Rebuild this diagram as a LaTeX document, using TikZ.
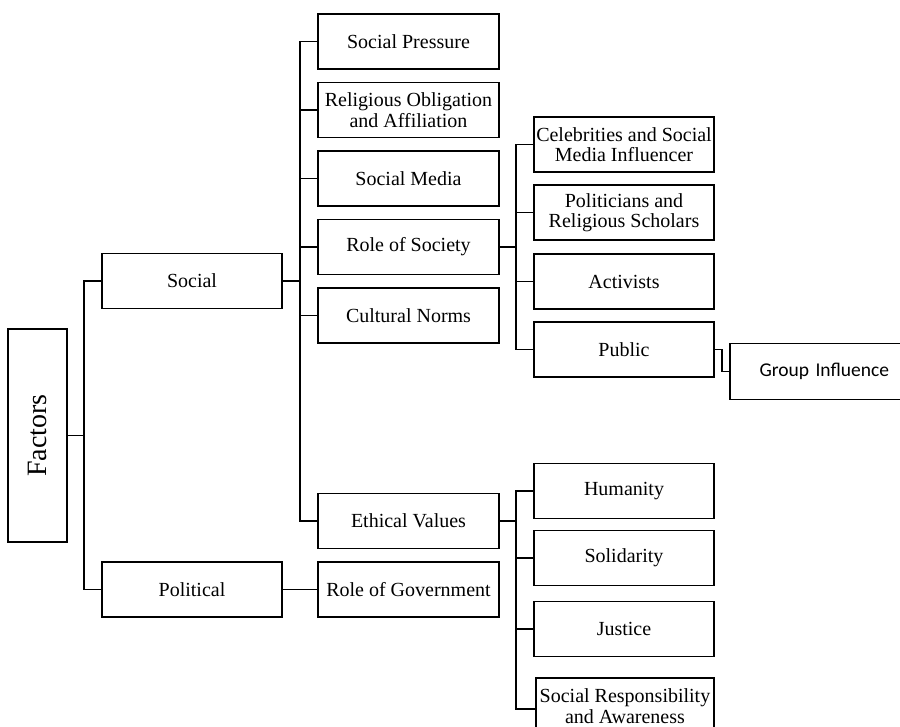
\documentclass[tikz,border=0pt]{standalone}
\usepackage{fontspec}
\setmainfont{Liberation Serif}
\newfontfamily\gifont{Carlito}
\begin{document}
\begin{tikzpicture}[x=1pt,y=-1pt,
  box/.style={draw,line width=1.6pt,inner sep=0pt,align=center,font=\fontsize{20}{20.5}\selectfont},
  lvlone/.style={box,minimum width=180pt,minimum height=55pt},
  lvltwo/.style={box,minimum width=181pt,minimum height=55pt},
  lvlthree/.style={box,minimum width=180pt,minimum height=55pt},
  conn/.style={line width=1.6pt}]
\useasboundingbox (0,0) rectangle (900,726);
% root
\node[box,minimum width=59pt,minimum height=213pt,font=\fontsize{28}{30}\selectfont] (factors) at (37.5,435.5) {\rotatebox{90}{Factors}};
% level 1
\node[lvlone] (social) at (192,281) {Social};
\node[lvlone] (political) at (192,589.5) {Political};
% level 2
\node[lvltwo] (sp) at (408.5,41.5) {Social Pressure};
\node[lvltwo] (rel) at (408.5,110) {Religious Obligation\\and Affiliation};
\node[lvltwo] (sm) at (408.5,178.5) {Social Media};
\node[lvltwo] (ros) at (408.5,247) {Role of Society};
\node[lvltwo] (cn) at (408.5,315.5) {Cultural Norms};
\node[lvltwo] (ev) at (408.5,521) {Ethical Values};
\node[lvltwo] (rog) at (408.5,589.5) {Role of Government};
% level 3 (society)
\node[lvlthree] (cel) at (624,144.5) {Celebrities and Social\\Media Influencer};
\node[lvlthree] (pol) at (624,212.5) {Politicians and\\Religious Scholars};
\node[lvlthree] (act) at (624,281.5) {Activists};
\node[lvlthree] (pub) at (624,349.5) {Public};
\node[box,minimum width=175pt,minimum height=56pt,font=\fontsize{19.5}{20}\gifont,text width=168pt,align=left] (gi) at (817.5,371.5) {\hspace*{26pt}Group Influence};
% level 3 (ethics)
\node[lvlthree] (hum) at (624,491) {Humanity};
\node[lvlthree] (sol) at (624,558) {Solidarity};
\node[lvlthree] (jus) at (624,629) {Justice};
\node[box,minimum width=178pt,minimum height=56pt] (srs) at (625,706) {Social Responsibility\\and Awareness};
% trunk coordinates
\coordinate (t1) at (84,0);
\coordinate (t2) at (300,0);
\coordinate (t3) at (516,0);
\coordinate (t4) at (516,0);
\coordinate (t5) at (722,0);
% connectors
\draw[conn] (factors.east) -- (factors.east -| t1);
\draw[conn] (social.west) -- (social.west -| t1) -- (political.west -| t1) -- (political.west);
\draw[conn] (social.east) -- (social.east -| t2);
\draw[conn] (sp.west) -- (sp.west -| t2) -- (ev.west -| t2) -- (ev.west);
\foreach \n in {rel,sm,ros,cn}{\draw[conn] (\n.west) -- (\n.west -| t2);}
\draw[conn] (political.east) -- (rog.west);
\draw[conn] (ros.east) -- (ros.east -| t3);
\draw[conn] (cel.west) -- (cel.west -| t3) -- (pub.west -| t3) -- (pub.west);
\foreach \n in {pol,act}{\draw[conn] (\n.west) -- (\n.west -| t3);}
\draw[conn] (pub.east) -- (pub.east -| t5) -- (gi.west -| t5) -- (gi.west);
\draw[conn] (ev.east) -- (ev.east -| t4);
\draw[conn] (hum.west) -- (hum.west -| t4) -- ([yshift=-3pt]srs.west -| t4) -- ([yshift=-3pt]srs.west);
\foreach \n in {sol,jus}{\draw[conn] (\n.west) -- (\n.west -| t4);}
\end{tikzpicture}
\end{document}
